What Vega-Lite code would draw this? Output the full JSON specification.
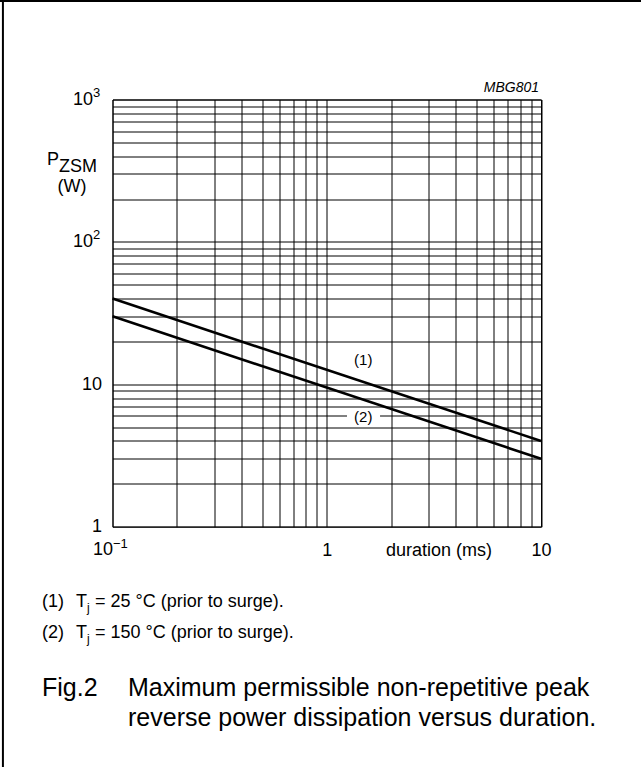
{
  "$schema": "https://vega.github.io/schema/vega-lite/v6.json",
  "autosize": {"type": "none"},
  "padding": {"left": 112.5, "top": 99.5, "right": 100, "bottom": 240.3},
  "width": 428.5,
  "height": 427.2,
  "background": "white",
  "config": {
    "font": "Liberation Sans",
    "view": {"stroke": "black", "strokeWidth": 1},
    "text": {"font": "Liberation Sans", "fontWeight": "normal", "color": "black", "baseline": "middle"},
    "axis": {"gridColor": "black", "gridOpacity": 1, "gridWidth": 1, "ticks": false, "tickSize": 0, "domain": false, "labelColor": "black", "labelFontSize": 18, "labelFont": "Liberation Sans", "titleFont": "Liberation Sans", "titleColor": "black", "titleFontWeight": "normal", "titleFontSize": 18, "labelFlush": false, "labelOverlap": false}
  },
  "datasets": {
    "curves": [
      {"duration": 0.1, "power": 40, "curve": "(1)"},
      {"duration": 10, "power": 4, "curve": "(1)"},
      {"duration": 0.1, "power": 30, "curve": "(2)"},
      {"duration": 10, "power": 3, "curve": "(2)"}
    ],
    "one": [{}],
    "yexp": [{"p": 100, "e": "2"}, {"p": 1000, "e": "3"}]
  },
  "layer": [
    {
      "data": {"name": "curves"},
      "mark": {"type": "line", "color": "black", "strokeWidth": 2.6},
      "encoding": {
        "x": {"field": "duration", "type": "quantitative", "scale": {"type": "log", "domain": [0.1, 10], "nice": false},
          "axis": {"values": [0.1,0.2,0.3,0.4,0.5,0.6,0.7,0.8,0.9,1,2,3,4,5,6,7,8,9,10],
            "labelExpr": "datum.value == 1 ? '1' : datum.value == 10 ? '10' : ''",
            "labelPadding": 23.3, "labelBaseline": "middle",
            "title": "duration (ms)", "titleX": 326, "titleY": 23.3, "titleBaseline": "middle", "titleAlign": "center", "titleAnchor": null}},
        "y": {"field": "power", "type": "quantitative", "scale": {"type": "log", "domain": [1, 1000], "nice": false},
          "axis": {"values": [1,2,3,4,5,6,7,8,9,10,20,30,40,50,60,70,80,90,100,200,300,400,500,600,700,800,900,1000],
            "labelExpr": "datum.value == 1 ? '1' : datum.value == 10 ? '10' : ''",
            "labelPadding": 11, "labelBaseline": "middle", "title": null}},
        "detail": {"field": "curve"}
      }
    },
    {
      "data": {"name": "yexp"},
      "mark": {"type": "text", "text": "10", "fontSize": 18, "align": "right", "dx": -19.5},
      "encoding": {"x": {"datum": 0.1}, "y": {"field": "p", "type": "quantitative"}}
    },
    {
      "data": {"name": "yexp"},
      "mark": {"type": "text", "fontSize": 13, "align": "left", "dx": -19.5, "dy": -7},
      "encoding": {"x": {"datum": 0.1}, "y": {"field": "p", "type": "quantitative"}, "text": {"field": "e"}}
    },
    {
      "data": {"name": "one"},
      "mark": {"type": "text", "text": "10", "fontSize": 18, "align": "right", "dx": 0.5, "dy": 23.3},
      "encoding": {"x": {"datum": 0.1}, "y": {"datum": 1}}
    },
    {
      "data": {"name": "one"},
      "mark": {"type": "text", "text": "\u22121", "fontSize": 13, "align": "left", "dx": 0.5, "dy": 17},
      "encoding": {"x": {"datum": 0.1}, "y": {"datum": 1}}
    },
    {
      "data": {"name": "one"},
      "mark": {"type": "rect", "color": "white", "opacity": 1},
      "encoding": {"x": {"datum": 1.243}, "x2": {"datum": 1.773}, "y": {"datum": 5.62}, "y2": {"datum": 6.39}}
    },
    {
      "data": {"name": "one"},
      "mark": {"type": "text", "text": "(1)", "fontSize": 15, "align": "center"},
      "encoding": {"x": {"datum": 1.48}, "y": {"datum": 14.8}}
    },
    {
      "data": {"name": "one"},
      "mark": {"type": "text", "text": "(2)", "fontSize": 15, "align": "center"},
      "encoding": {"x": {"datum": 1.48}, "y": {"datum": 5.9}}
    },
    {
      "data": {"name": "one"},
      "mark": {"type": "text", "text": "MBG801", "fontSize": 14, "fontStyle": "italic", "align": "right", "dx": -2, "dy": -12},
      "encoding": {"x": {"datum": 10}, "y": {"datum": 1000}}
    },
    {
      "data": {"name": "one"},
      "mark": {"type": "text", "text": "P", "fontSize": 18, "align": "left", "dx": -65.5},
      "encoding": {"x": {"datum": 0.1}, "y": {"datum": 376}}
    },
    {
      "data": {"name": "one"},
      "mark": {"type": "text", "text": "ZSM", "fontSize": 18, "align": "left", "dx": -53.5},
      "encoding": {"x": {"datum": 0.1}, "y": {"datum": 336}}
    },
    {
      "data": {"name": "one"},
      "mark": {"type": "text", "text": "(W)", "fontSize": 18, "align": "center", "dx": -40.5},
      "encoding": {"x": {"datum": 0.1}, "y": {"datum": 243}}
    },
    {
      "data": {"name": "one"},
      "mark": {"type": "text", "text": ["(1)", "(2)"], "lineHeight": 31, "fontSize": 18, "align": "left", "baseline": "top", "dx": -70.5, "dy": 66},
      "encoding": {"x": {"datum": 0.1}, "y": {"datum": 1}}
    },
    {
      "data": {"name": "one"},
      "mark": {"type": "text", "text": ["T", "T"], "lineHeight": 31, "fontSize": 18, "align": "left", "baseline": "top", "dx": -36.5, "dy": 66},
      "encoding": {"x": {"datum": 0.1}, "y": {"datum": 1}}
    },
    {
      "data": {"name": "one"},
      "mark": {"type": "text", "text": ["j", "j"], "lineHeight": 31, "fontSize": 12, "align": "left", "baseline": "top", "dx": -25.5, "dy": 76},
      "encoding": {"x": {"datum": 0.1}, "y": {"datum": 1}}
    },
    {
      "data": {"name": "one"},
      "mark": {"type": "text", "text": ["= 25 \u00b0C (prior to surge).", "= 150 \u00b0C (prior to surge)."], "lineHeight": 31, "fontSize": 18, "align": "left", "baseline": "top", "dx": -17.5, "dy": 66},
      "encoding": {"x": {"datum": 0.1}, "y": {"datum": 1}}
    },
    {
      "data": {"name": "one"},
      "mark": {"type": "text", "text": "Fig.2", "fontSize": 25, "align": "left", "baseline": "top", "dx": -70.5, "dy": 149},
      "encoding": {"x": {"datum": 0.1}, "y": {"datum": 1}}
    },
    {
      "data": {"name": "one"},
      "mark": {"type": "text", "text": ["Maximum permissible non-repetitive peak", "reverse power dissipation versus duration."], "lineHeight": 30, "fontSize": 25, "align": "left", "baseline": "top", "dx": 15.5, "dy": 149},
      "encoding": {"x": {"datum": 0.1}, "y": {"datum": 1}}
    },
    {
      "data": {"name": "one"},
      "mark": {"type": "rule", "color": "black", "strokeWidth": 2, "clip": false},
      "encoding": {"x": {"datum": 0.0308}, "y": {"datum": 0.018}, "y2": {"datum": 6000}}
    },
    {
      "data": {"name": "one"},
      "mark": {"type": "rule", "color": "black", "strokeWidth": 2, "clip": false},
      "encoding": {"y": {"datum": 4920}, "x": {"datum": 0.029}, "x2": {"datum": 40}}
    }
  ]
}
